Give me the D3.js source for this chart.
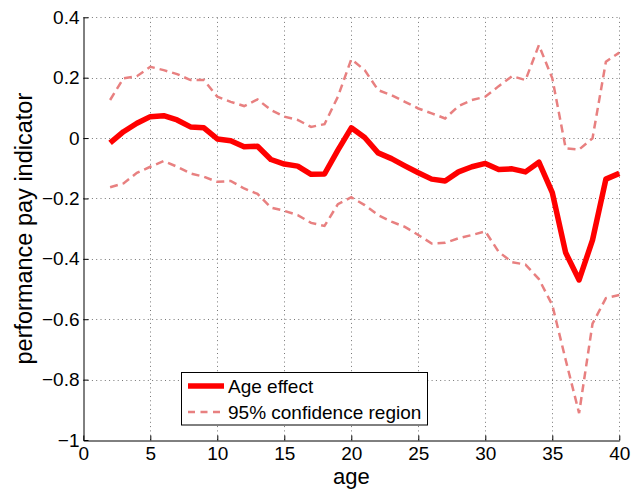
<!DOCTYPE html>
<html>
<head>
<meta charset="utf-8">
<script src="https://cdn.jsdelivr.net/npm/d3@7"></script>
<style>
  html, body { margin: 0; padding: 0; background: #fff; }
  svg { display: block; font-family: "Liberation Sans", Arial, sans-serif; }
</style>
</head>
<body>
<svg id="chart" width="631" height="489"></svg>
<script>
const ages = [2,3,4,5,6,7,8,9,10,11,12,13,14,15,16,17,18,19,20,21,22,23,24,25,26,27,28,29,30,31,32,33,34,35,36,37,38,39,40];
const ageEffect = [-0.016,0.021,0.049,0.071,0.074,0.060,0.037,0.034,-0.003,-0.009,-0.029,-0.027,-0.071,-0.086,-0.093,-0.120,-0.119,-0.040,0.034,0.002,-0.049,-0.068,-0.092,-0.115,-0.136,-0.142,-0.112,-0.095,-0.084,-0.104,-0.102,-0.112,-0.080,-0.181,-0.380,-0.470,-0.338,-0.136,-0.117];
const upperCI = [0.126,0.198,0.205,0.236,0.225,0.212,0.192,0.192,0.137,0.120,0.106,0.128,0.093,0.071,0.060,0.037,0.046,0.137,0.261,0.225,0.159,0.142,0.120,0.098,0.082,0.065,0.106,0.126,0.137,0.172,0.205,0.192,0.308,0.198,-0.034,-0.038,-0.001,0.253,0.283];
const lowerCI = [-0.163,-0.150,-0.115,-0.095,-0.076,-0.095,-0.117,-0.128,-0.145,-0.142,-0.167,-0.185,-0.230,-0.241,-0.255,-0.281,-0.291,-0.219,-0.196,-0.222,-0.255,-0.277,-0.294,-0.321,-0.349,-0.347,-0.332,-0.321,-0.309,-0.377,-0.411,-0.419,-0.467,-0.553,-0.735,-0.911,-0.615,-0.530,-0.520];
const xTicks = [0,5,10,15,20,25,30,35,40];
const yTicks = [-1,-0.8,-0.6,-0.4,-0.2,0,0.2,0.4];
const yTickLabels = ["\u22121","\u22120.8","\u22120.6","\u22120.4","\u22120.2","0","0.2","0.4"];
const seriesNames = ["Age effect","95% confidence region"];

const svg = d3.select("#chart");
const pL = 83.3, pR = 619.3, pT = 17.3, pB = 440;
const x = d3.scaleLinear().domain([0,40]).range([pL,pR]);
const y = d3.scaleLinear().domain([-1,0.4]).range([pB,pT]);

// grid
const grid = svg.append("g").attr("stroke","#777").attr("stroke-width",1).attr("stroke-dasharray","1,3.3");
grid.selectAll(".gx").data(xTicks.filter(d=>d>0)).join("line")
  .attr("x1",d=>Math.round(x(d))+0.5).attr("x2",d=>Math.round(x(d))+0.5)
  .attr("y1",pB).attr("y2",pT);
grid.selectAll(".gy").data(yTicks.filter(d=>d>-1)).join("line")
  .attr("y1",d=>Math.round(y(d))+0.5).attr("y2",d=>Math.round(y(d))+0.5)
  .attr("x1",pL).attr("x2",pR);

// axes
const xAxis = d3.axisBottom(x).tickValues(xTicks).tickSizeInner(-5).tickSizeOuter(0).tickPadding(6).tickFormat(d3.format("d"));
const yAxis = d3.axisLeft(y).tickValues(yTicks).tickSizeInner(-5).tickSizeOuter(0).tickPadding(4).tickFormat((d,i)=>yTickLabels[i]);
const gx = svg.append("g").attr("transform",`translate(0,${Math.round(pB)+0.5})`).call(xAxis);
const gy = svg.append("g").attr("transform",`translate(${Math.round(pL)+0.5},0)`).call(yAxis);
[gx,gy].forEach(g=>{
  g.select(".domain").attr("stroke","#000").attr("stroke-width",1);
  g.selectAll(".tick line").attr("stroke","#000");
  g.selectAll("text").attr("fill","#000").style("font-size","19px").style("font-family","'Liberation Sans', Arial, sans-serif");
});

// lines
const line = d3.line().x((d,i)=>x(ages[i])).y(d=>y(d));
const ciColor = "rgb(232,128,128)";
svg.append("path").datum(upperCI).attr("d",line).attr("fill","none")
  .attr("stroke",ciColor).attr("stroke-width",2.5).attr("stroke-dasharray","8,5");
svg.append("path").datum(lowerCI).attr("d",line).attr("fill","none")
  .attr("stroke",ciColor).attr("stroke-width",2.5).attr("stroke-dasharray","8,5");
svg.append("path").datum(ageEffect).attr("d",line).attr("fill","none")
  .attr("stroke","#ff0000").attr("stroke-width",5.5).attr("stroke-linejoin","round");

// axis labels
svg.append("text").attr("x",(pL+pR)/2).attr("y",484).attr("text-anchor","middle")
  .style("font-size","22px").text("age");
svg.append("text").attr("transform",`translate(32,${(pT+pB)/2}) rotate(-90)`).attr("text-anchor","middle")
  .style("font-size","23.5px").text("performance pay indicator");

// legend
const lg = svg.append("g");
lg.append("rect").attr("x",181.5).attr("y",372.5).attr("width",246).attr("height",52.5)
  .attr("fill","#fff").attr("stroke","#000").attr("stroke-width",1);
lg.append("line").attr("x1",188).attr("x2",224).attr("y1",386).attr("y2",386)
  .attr("stroke","#ff0000").attr("stroke-width",5.5);
lg.append("line").attr("x1",188).attr("x2",224).attr("y1",412).attr("y2",412)
  .attr("stroke",ciColor).attr("stroke-width",2.5).attr("stroke-dasharray","7,5.5");
lg.append("text").attr("x",228).attr("y",392.5).style("font-size","19px").text(seriesNames[0]);
lg.append("text").attr("x",228).attr("y",418.5).style("font-size","19px").text(seriesNames[1]);
</script>
</body>
</html>
